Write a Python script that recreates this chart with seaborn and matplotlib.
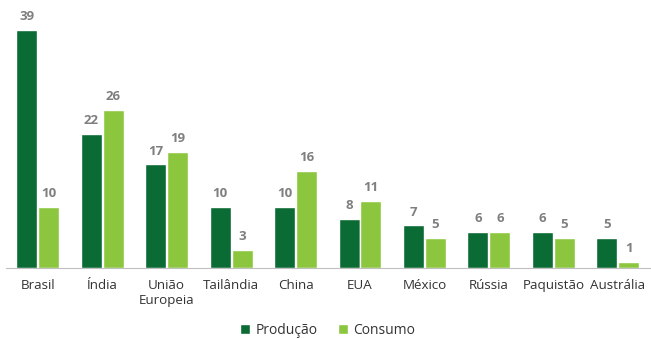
#!/usr/bin/env python3

import matplotlib

matplotlib.use("Agg")
import matplotlib.pyplot as plt
import pandas as pd
import seaborn as sns

OUTPUT = "out.png"

paises = ["Brasil", "Índia", "União\nEuropeia", "Tailândia", "China",
          "EUA", "México", "Rússia", "Paquistão", "Austrália"]
producao = [39, 22, 17, 10, 10, 8, 7, 6, 6, 5]
consumo = [10, 26, 19, 3, 16, 11, 5, 6, 5, 1]

COR_PROD = "#0b6b35"
COR_CONS = "#8cc63f"


def plot_acucar(df: pd.DataFrame):
    fig = plt.figure(figsize=(6.51, 3.39), dpi=100)
    ax = fig.add_axes([0.0085, 0.209, 0.99, 0.761])

    sns.barplot(
        data=df,
        x="pais",
        y="valor",
        hue="serie",
        palette=[COR_PROD, COR_CONS],
        saturation=1,
        width=0.68,
        gap=0.04,
        ax=ax,
    )

    for cont in ax.containers:
        ax.bar_label(cont, fmt="%d", padding=5, color="#7f7f7f",
                     fontsize=9.5, fontweight="bold")

    ax.set_ylim(0, 42.3)
    ax.set_xlim(-0.5, 9.5)
    ax.set_yticks([])
    ax.set_xlabel("")
    ax.set_ylabel("")
    for s in ["top", "right", "left"]:
        ax.spines[s].set_visible(False)
    ax.spines["bottom"].set_color("#bfbfbf")
    ax.tick_params(axis="x", length=0, pad=8, labelsize=9.6, labelcolor="#333333")

    ax.legend(
        loc="center",
        bbox_to_anchor=(0.5, -0.24),
        ncol=2,
        frameon=False,
        fontsize=10,
        handlelength=0.7,
        handleheight=0.7,
        handletextpad=0.4,
        columnspacing=1.5,
        labelcolor="#333333",
    )

    fig.savefig(OUTPUT, dpi=100)


def main():
    df = pd.DataFrame({
        "pais": paises * 2,
        "valor": producao + consumo,
        "serie": ["Produção"] * len(paises) + ["Consumo"] * len(paises),
    })
    sns.set_style("white")
    plt.rcParams["font.family"] = ["Open Sans", "DejaVu Sans"]
    plot_acucar(df)


if __name__ == "__main__":
    main()
